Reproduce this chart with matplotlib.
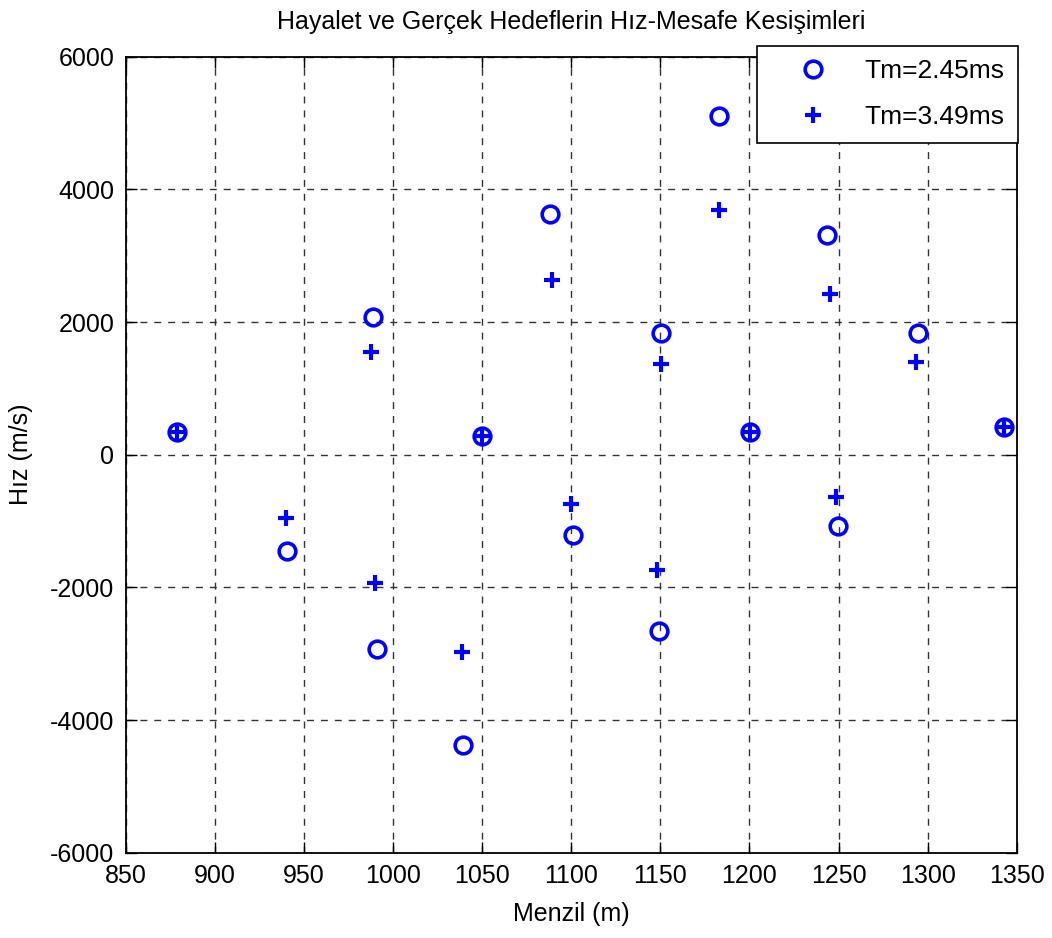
import matplotlib
matplotlib.use("Agg")
import matplotlib.pyplot as plt

plt.rcParams['font.family'] = ['Liberation Sans', 'DejaVu Sans']
plt.rcParams['axes.unicode_minus'] = False

# Tm = 2.45 ms
range_a = [879, 940.5, 988.8, 991, 1050, 1039.4, 1088.2, 1101, 1150.2, 1149.3,
           1182.9, 1200.3, 1243.8, 1249.6, 1294.6, 1343.1]
vel_a = [347, -1451, 2070, -2928, 282, -4379, 3623, -1210, 1829, -2652,
         5104, 347, 3311, -1070, 1829, 422]

# Tm = 3.49 ms
range_b = [879, 940.3, 987.7, 990, 1050, 1038.5, 1089.1, 1099.8, 1150.6, 1148.2,
           1182.9, 1200.3, 1245.3, 1248.5, 1293.6, 1343.1]
vel_b = [347, -958, 1543, -1938, 282, -2973, 2633, -747, 1367, -1738,
         3688, 347, 2422, -642, 1402, 422]

labels = ['Tm=2.45ms', 'Tm=3.49ms']
xticks = list(range(850, 1351, 50))
yticks = list(range(-6000, 6001, 2000))

fig = plt.figure(figsize=(10.52, 9.38), dpi=100)
ax = fig.add_axes([0.1193, 0.0909, 0.8472, 0.8487])

ax.plot(range_a, vel_a, 'o', color='blue', markersize=12, markeredgewidth=2.6,
        markerfacecolor='none', label=labels[0])
ax.plot(range_b, vel_b, '+', color='blue', markersize=12, markeredgewidth=3,
        label=labels[1])

ax.set_xlim(850, 1350)
ax.set_ylim(-6000, 6000)
ax.set_xticks(xticks)
ax.set_yticks(yticks)
ax.grid(True, color='#333333', linestyle=(0, (5, 5)), linewidth=1)
ax.tick_params(direction='in', length=8, width=1, top=True, right=True,
               labelsize=18)
ax.tick_params(axis='x', pad=8)
ax.tick_params(axis='y', pad=8)
for s in ax.spines.values():
    s.set_linewidth(1.3)

ax.set_title('Hayalet ve Gerçek Hedeflerin Hız-Mesafe Kesişimleri',
             fontsize=18, pad=20)
ax.set_xlabel('Menzil (m)', fontsize=18, labelpad=10)
ax.set_ylabel('Hız (m/s)', fontsize=18, labelpad=12)

leg = ax.legend(loc='upper right', bbox_to_anchor=(1018 / 1052, 1 - 45.7 / 938),
                bbox_transform=fig.transFigure, fontsize=19, fancybox=False,
                framealpha=1, edgecolor='black', borderpad=0.5,
                handlelength=3.3, handletextpad=0.3, labelspacing=0.85,
                borderaxespad=0)
leg.get_frame().set_linewidth(1.2)

fig.savefig('out.png', dpi=100)
